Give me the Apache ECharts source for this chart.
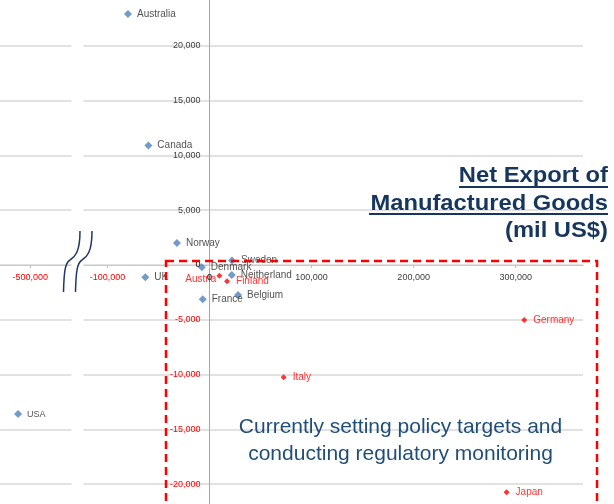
<!DOCTYPE html>
<html>
<head>
<meta charset="utf-8">
<script src="https://cdn.jsdelivr.net/npm/echarts@6/dist/echarts.min.js"></script>
<style>
  html, body { margin: 0; padding: 0; background: #ffffff; }
  #chart { width: 614px; height: 504px; }
</style>
</head>
<body>
<div id="chart"></div>
<script>
// Countries not yet covered by policy targets (blue)
const otherNames  = ['Australia', 'Canada', 'Norway', 'Sweden', 'Denmark', 'UK', 'Neitherland', 'Belgium', 'France', 'USA'];
const otherExport = [-80000, -60000, -32000, 22000, -7600, -63000, 21700, 27900, -6700, -512000];
const otherValue  = [22900, 10900, 2000, 400, -200, -1120, -910, -2740, -3130, -13600];

// Countries currently setting policy targets (red)
const targetNames  = ['Austria', 'Finland', 'Italy', 'Germany', 'Japan'];
const targetExport = [9600, 17100, 72600, 308400, 291100];
const targetValue  = [-980, -1490, -10240, -5020, -20730];

// Axis extents, tick values and the compressed stretch of the x axis
const xExtent = [-600000, 366000];
const xStep = 100000;
const xTickValues = [-500000, -100000, 0, 100000, 200000, 300000];
const xBreak = [-460000, -124000];
const yExtent = [-25000, 25000];
const yStep = 5000;
const yTickValues = [-20000, -15000, -10000, -5000, 0, 5000, 10000, 15000, 20000];

const FONT = '"Liberation Sans", Arial, sans-serif';
const NAVY = '#17365d';
const BLUE = '#4f81bd';
const RED = '#ff0000';
const LABEL_GREY = '#404040';

function signColor(v) {
  return Number(v) < 0 ? RED : LABEL_GREY;
}

function buildPoints(names, xs, ys, labelStyle) {
  return names.map((n, i) => {
    const p = { name: n, value: [xs[i], ys[i]] };
    if (labelStyle[n]) p.label = labelStyle[n];
    return p;
  });
}

const otherLabels = {
  USA: { fontSize: 9 }
};
const targetLabels = {
  Austria: { position: 'left', distance: 0, offset: [0, 4] }
};

// one "S" stroke of the axis-break mark, as two cubic pieces
function breakStroke(dx) {
  const st = { fill: null, stroke: '#1f3864', lineWidth: 1.5 };
  return [
    { type: 'bezierCurve', zlevel: 1, z: 100, silent: true,
      shape: { x1: 63.5 + dx, y1: 292, cpx1: 64 + dx, cpy1: 272, cpx2: 65 + dx, cpy2: 263, x2: 70 + dx, y2: 260 },
      style: st },
    { type: 'bezierCurve', zlevel: 1, z: 100, silent: true,
      shape: { x1: 70 + dx, y1: 260, cpx1: 75 + dx, cpy1: 257, cpx2: 80 + dx, cpy2: 252, x2: 80 + dx, y2: 231 },
      style: st }
  ];
}

const GRID = { left: -71.7, right: 31, top: -9, bottom: -35 };
const X_LABEL_MARGIN = 8;
const Y_LABEL_MARGIN = 9;

const chart = echarts.init(document.getElementById('chart'), null, { renderer: 'canvas' });

const option = {
  animation: false,
  backgroundColor: '#ffffff',
  grid: { left: GRID.left, right: GRID.right, top: GRID.top, bottom: GRID.bottom, containLabel: false, outerBoundsMode: 'none' },
  xAxis: {
    type: 'value',
    min: xExtent[0],
    max: xExtent[1],
    interval: xStep,
    breaks: [{ start: xBreak[0], end: xBreak[1], gap: 11700 }],
    breakArea: {
      show: true,
      itemStyle: { color: '#ffffff', borderWidth: 0, opacity: 1 },
      zigzagAmplitude: 0
    },
    axisLine: { onZero: false, lineStyle: { color: '#c8c8c8', width: 1 } },
    axisTick: { show: true, length: 3, customValues: xTickValues, lineStyle: { color: '#bfbfbf' } },
    splitLine: { show: false },
    axisLabel: {
      margin: X_LABEL_MARGIN,
      fontSize: 9,
      fontFamily: FONT,
      hideOverlap: false,
      customValues: xTickValues,
      color: signColor,
      formatter: v => echarts.format.addCommas(v)
    }
  },
  yAxis: {
    type: 'value',
    min: yExtent[0],
    max: yExtent[1],
    interval: yStep,
    axisLine: { onZero: false, lineStyle: { color: '#a6a6a6', width: 1 } },
    axisTick: { show: false },
    splitLine: { show: true, lineStyle: { color: '#d9d9d9', width: 1.5 } },
    axisLabel: {
      margin: Y_LABEL_MARGIN,
      fontSize: 9,
      fontFamily: FONT,
      hideOverlap: false,
      customValues: yTickValues,
      color: signColor,
      formatter: v => echarts.format.addCommas(v)
    }
  },
  series: [
    {
      type: 'scatter',
      symbol: 'diamond',
      symbolSize: 8,
      itemStyle: { color: BLUE },
      label: {
        show: true,
        position: 'right',
        distance: 5,
        formatter: '{b}',
        fontSize: 10,
        fontFamily: FONT,
        color: '#262626'
      },
      emphasis: { disabled: true },
      data: buildPoints(otherNames, otherExport, otherValue, otherLabels)
    },
    {
      type: 'scatter',
      symbol: 'diamond',
      symbolSize: 6,
      itemStyle: { color: RED },
      label: {
        show: true,
        position: 'right',
        distance: 6,
        formatter: '{b}',
        fontSize: 10,
        fontFamily: FONT,
        color: RED
      },
      emphasis: { disabled: true },
      data: buildPoints(targetNames, targetExport, targetValue, targetLabels)
    }
  ],
  graphic: [
    // break marks across the x axis
    ...breakStroke(0),
    ...breakStroke(12),
    // dashed frame around the policy-target group
    {
      type: 'rect', z: 100, silent: true,
      shape: { x: 166, y: 261, width: 431, height: 300 },
      style: { fill: null, stroke: RED, lineWidth: 2.5, lineDash: [8, 5] }
    },
    // axis title
    {
      type: 'text', z: 100, x: 608, y: 176, scaleX: 1.08,
      style: { text: 'Net Export of', fontSize: 22, fontWeight: 'bold', fontFamily: FONT, fill: NAVY, align: 'right', verticalAlign: 'middle' }
    },
    {
      type: 'text', z: 100, x: 608, y: 203.5, scaleX: 1.08,
      style: { text: 'Manufactured Goods', fontSize: 22, fontWeight: 'bold', fontFamily: FONT, fill: NAVY, align: 'right', verticalAlign: 'middle' }
    },
    {
      type: 'text', z: 100, x: 608, y: 231, scaleX: 1.08,
      style: { text: '(mil US$)', fontSize: 22, fontWeight: 'bold', fontFamily: FONT, fill: NAVY, align: 'right', verticalAlign: 'middle' }
    },
    {
      type: 'line', z: 100, silent: true,
      shape: { x1: 459, y1: 187, x2: 608, y2: 187 },
      style: { stroke: NAVY, lineWidth: 2 }
    },
    {
      type: 'line', z: 100, silent: true,
      shape: { x1: 369, y1: 214, x2: 608, y2: 214 },
      style: { stroke: NAVY, lineWidth: 2 }
    },
    // note inside the frame
    {
      type: 'text', z: 100, x: 400.5, y: 427,
      style: { text: 'Currently setting policy targets and', fontSize: 21, fontFamily: FONT, fill: '#1f4e79', align: 'center', verticalAlign: 'middle' }
    },
    {
      type: 'text', z: 100, x: 400.5, y: 454,
      style: { text: 'conducting regulatory monitoring', fontSize: 21, fontFamily: FONT, fill: '#1f4e79', align: 'center', verticalAlign: 'middle' }
    }
  ]
};

chart.setOption(option);

// Both axes cross at the origin: shift each axis (line, ticks and labels)
// from the grid edge onto the other axis's zero.
const origin = chart.convertToPixel({ gridIndex: 0 }, [0, 0]);
const rect = chart.getModel().getComponent('grid', 0).coordinateSystem.getRect();
chart.setOption({
  xAxis: { offset: -(rect.y + rect.height - origin[1]) },
  yAxis: { offset: -(origin[0] - rect.x) }
});

// The "0" tick label of each axis sits right at the crossing point,
// where the axis renderer leaves it out; place both from the origin.
chart.setOption({
  graphic: [
    {
      id: 'yZero', type: 'text', z: 5, silent: true,
      x: origin[0] - Y_LABEL_MARGIN, y: origin[1],
      style: { text: echarts.format.addCommas(0), fontSize: 9, fontFamily: FONT, fill: LABEL_GREY, align: 'right', verticalAlign: 'middle' }
    },
    {
      id: 'xZero', type: 'text', z: 5, silent: true,
      x: origin[0], y: origin[1] + X_LABEL_MARGIN,
      style: { text: echarts.format.addCommas(0), fontSize: 9, fontFamily: FONT, fill: LABEL_GREY, align: 'center', verticalAlign: 'top' }
    }
  ]
});
</script>
</body>
</html>
